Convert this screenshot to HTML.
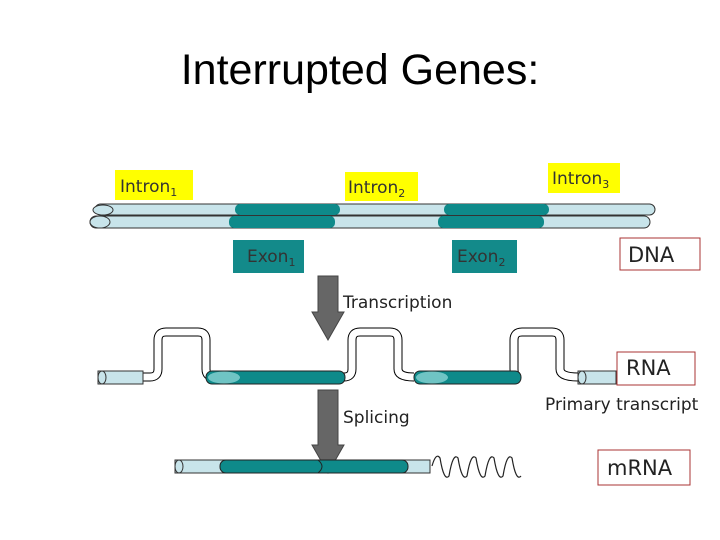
<!DOCTYPE html>
<html><head><style>
html,body{margin:0;padding:0;background:#fff;}
svg{display:block;}
text{font-family:"DejaVu Sans","Liberation Sans",sans-serif;}
</style></head><body>
<svg width="720" height="540" viewBox="0 0 720 540" xmlns="http://www.w3.org/2000/svg">
<text x="360" y="84" text-anchor="middle" style="font-family:'Liberation Sans',sans-serif" font-size="43" fill="#000">Interrupted Genes:</text>

<rect x="115" y="170" width="78" height="30" fill="#ffff00"/>
<text x="120" y="192" font-size="17" fill="#333">Intron<tspan font-size="11" dy="4">1</tspan></text>
<rect x="345" y="172" width="73" height="29" fill="#ffff00"/>
<text x="348" y="193" font-size="17" fill="#333">Intron<tspan font-size="11" dy="4">2</tspan></text>
<rect x="548" y="163" width="72" height="30" fill="#ffff00"/>
<text x="552" y="184" font-size="17" fill="#333">Intron<tspan font-size="11" dy="4">3</tspan></text>

<g stroke="#333" stroke-width="1">
<rect x="95" y="204" width="560" height="11" rx="5.5" fill="#c8e4ea"/>
<rect x="90" y="216" width="560" height="12" rx="6" fill="#c8e4ea"/>
</g>
<rect x="235" y="204" width="105" height="11" rx="5" fill="#0e8a8a"/>
<rect x="444" y="204" width="105" height="11" rx="5" fill="#0e8a8a"/>
<rect x="229" y="216" width="106" height="12" rx="5" fill="#0e8a8a"/>
<rect x="438" y="216" width="106" height="12" rx="5" fill="#0e8a8a"/>
<ellipse cx="103" cy="210" rx="10" ry="5" fill="#c8e4ea" stroke="#333"/>
<ellipse cx="100" cy="222" rx="10" ry="6" fill="#c8e4ea" stroke="#333"/>

<rect x="233" y="240" width="71" height="33" fill="#138a8a"/>
<text x="247" y="262" font-size="17" fill="#333">Exon<tspan font-size="11" dy="4">1</tspan></text>
<rect x="452" y="240" width="65" height="33" fill="#138a8a"/>
<text x="457" y="262" font-size="17" fill="#333">Exon<tspan font-size="11" dy="4">2</tspan></text>

<rect x="620" y="238" width="80" height="32" fill="#fff" stroke="#a33" stroke-width="1"/>
<text x="628" y="262" font-size="21" fill="#222">DNA</text>

<polygon points="318,276 338,276 338,312 344,312 328,340 312,312 318,312" fill="#666" stroke="#444"/>
<text x="343" y="308" font-size="17" fill="#222">Transcription</text>

<g fill="none" stroke="#000" stroke-width="9">
<path d="M140,377 H150 Q158,377 158,369 V340 Q158,332 166,332 H198 Q206,332 206,340 V369 Q206,377 214,377"/>
<path d="M340,377 H344 Q352,377 352,369 V340 Q352,332 360,332 H390 Q398,332 398,340 V369 Q398,377 414,377"/>
<path d="M520,377 Q514,377 514,369 V340 Q514,332 522,332 H552 Q560,332 560,340 V369 Q560,377 578,377"/>
</g>
<g fill="none" stroke="#fff" stroke-width="7">
<path d="M140,377 H150 Q158,377 158,369 V340 Q158,332 166,332 H198 Q206,332 206,340 V369 Q206,377 214,377"/>
<path d="M340,377 H344 Q352,377 352,369 V340 Q352,332 360,332 H390 Q398,332 398,340 V369 Q398,377 414,377"/>
<path d="M520,377 Q514,377 514,369 V340 Q514,332 522,332 H552 Q560,332 560,340 V369 Q560,377 578,377"/>
</g>
<rect x="98" y="371" width="45" height="13" fill="#c8e4ea" stroke="#333"/>
<ellipse cx="102" cy="377.5" rx="4" ry="6.5" fill="#c8e4ea" stroke="#333"/>
<rect x="206" y="371" width="139" height="13" rx="6" fill="#0e8a8a" stroke="#222"/>
<ellipse cx="224" cy="377.5" rx="16" ry="6" fill="#6fc4c4"/>
<rect x="414" y="371" width="107" height="13" rx="6" fill="#0e8a8a" stroke="#222"/>
<ellipse cx="432" cy="377.5" rx="16" ry="6" fill="#6fc4c4"/>
<rect x="578" y="371" width="38" height="13" fill="#c8e4ea" stroke="#333"/>
<ellipse cx="582" cy="377.5" rx="4" ry="6.5" fill="#c8e4ea" stroke="#333"/>

<rect x="617" y="352" width="78" height="33" fill="#fff" stroke="#a33"/>
<text x="626" y="375" font-size="21" fill="#222">RNA</text>
<text x="545" y="410" font-size="17" fill="#222">Primary transcript</text>

<polygon points="318,390 338,390 338,445 344,445 328,473 312,445 318,445" fill="#666" stroke="#444"/>
<text x="343" y="423" font-size="17" fill="#222">Splicing</text>

<rect x="175" y="460" width="255" height="13" fill="#c8e4ea" stroke="#333"/>
<ellipse cx="179" cy="466.5" rx="4" ry="6.5" fill="#c8e4ea" stroke="#333"/>
<rect x="220" y="460" width="188" height="13" rx="6" fill="#0e8a8a" stroke="#222"/>
<path d="M318,460 q8,6.5 0,13" fill="none" stroke="#222"/>
<path d="M432,466 Q436,452 440,458 Q444,482 449,476 Q453,452 458,458 Q462,482 467,476 Q471,452 476,458 Q480,482 485,476 Q489,452 494,458 Q498,482 503,476 Q507,452 512,458 Q516,482 521,476" fill="none" stroke="#222" stroke-width="1.2"/>
<rect x="598" y="450" width="92" height="35" fill="#fff" stroke="#a33"/>
<text x="607" y="475" font-size="21" fill="#222">mRNA</text>
</svg>
</body></html>
